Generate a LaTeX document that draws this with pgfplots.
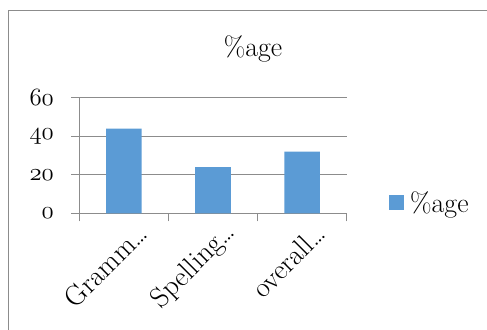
\documentclass[border=0pt]{standalone}
\usepackage{pgfplots}
\pgfplotsset{compat=1.18}
\definecolor{barblue}{HTML}{5B9BD5}
\definecolor{gridgray}{HTML}{8C8C8C}
\definecolor{framegray}{HTML}{8C8C8C}
\begin{document}
\begin{tikzpicture}
\path[use as bounding box] (0,0) rectangle (487bp,330bp);
\draw[framegray, line width=1bp] (8bp,-5bp) -- (8bp,319bp) -- (495bp,319bp);
\node[font=\fontsize{28}{32}\selectfont] at (253bp,281bp) {\%age};
\begin{axis}[
  at={(79.3bp,116.7bp)}, anchor=south west,
  scale only axis, width=267.4bp, height=115.6bp,
  xmin=-0.5, xmax=2.5, ymin=0, ymax=60,
  axis x line*=bottom, axis y line*=left,
  axis line style={gridgray, line width=0.9bp, -},
  ytick={0,20,40,60},
  yticklabels={$\mathnormal{0}$,$\mathnormal{20}$,$\mathnormal{40}$,$\mathnormal{60}$},
  yticklabel style={xshift=-14bp},
  ymajorgrids, grid style={gridgray, line width=0.9bp},
  tick style={gridgray, line width=0.9bp},
  tick align=outside, major tick length=8bp,
  xtick={-0.5,0.5,1.5,2.5}, xticklabels={},
  extra x ticks={0,1,2},
  extra x tick labels={Gramm\ldots,Spelling\ldots,overall\ldots},
  extra x tick style={major tick length=0pt, grid=none,
     xticklabel style={xshift=21bp, yshift=-13bp, rotate=45, anchor=east}},
  every tick label/.append style={font=\fontsize{28.5}{32}\selectfont, text=black},
  legend style={draw=none, fill=none, at={(1.158,0.093)}, anchor=west,
     font=\fontsize{28}{32}\selectfont, inner sep=0pt},
  legend image code/.code={\fill[barblue] (0bp,-7.5bp) rectangle (15bp,7.5bp);},
]
\addplot[ybar, bar width=35.7bp, fill=barblue, draw=none] coordinates {(0,44) (1,24) (2,32)};
\addlegendentry{\hspace{4bp}\%age}
\end{axis}
\end{tikzpicture}
\end{document}
